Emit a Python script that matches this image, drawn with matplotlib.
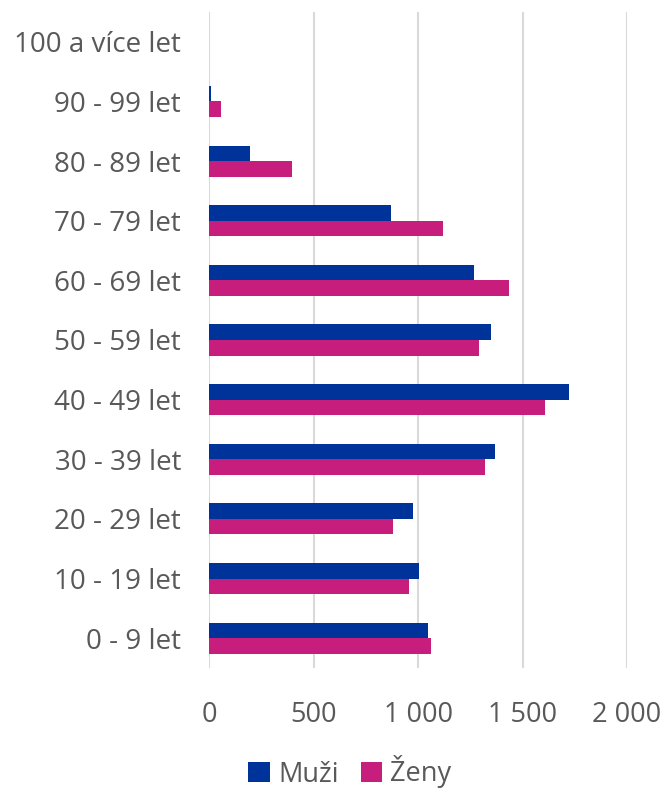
import numpy as np
import matplotlib.pyplot as plt

plt.rcParams['font.family'] = ['Open Sans', 'DejaVu Sans']

categories = ['0 - 9 let', '10 - 19 let', '20 - 29 let', '30 - 39 let', '40 - 49 let',
              '50 - 59 let', '60 - 69 let', '70 - 79 let', '80 - 89 let', '90 - 99 let',
              '100 a více let']
muzi = [1050, 1007, 978, 1370, 1722, 1347, 1268, 873, 195, 10, 0]
zeny = [1063, 959, 881, 1319, 1606, 1292, 1434, 1122, 395, 59, 0]
xticks = [0, 500, 1000, 1500, 2000]
xticklabels = ['0', '500', '1 000', '1 500', '2 000']

blue = '#00339A'
pink = '#C71E7D'
grey = '#595959'

fig = plt.figure(figsize=(6.7, 7.89), dpi=100)
ax = fig.add_axes([209 / 670, 1 - 668 / 789, (627 - 209) / 670, (668 - 12) / 789])

y = np.arange(len(categories))
h = 0.26
ax.barh(y + h / 2, muzi, height=h, color=blue, label='Muži', zorder=3)
ax.barh(y - h / 2, zeny, height=h, color=pink, label='Ženy', zorder=3)

ax.set_xlim(0, 2000)
ax.set_ylim(-0.5, len(categories) - 0.5)
ax.set_xticks(xticks)
ax.set_xticklabels(xticklabels)
ax.set_yticks(y)
ax.set_yticklabels(categories)
ax.tick_params(axis='x', length=0, pad=24, labelsize=19.5, labelcolor=grey)
ax.tick_params(axis='y', length=0, pad=20, labelsize=20, labelcolor=grey)
ax.grid(axis='x', color='#D9D9D9', linewidth=1.5, zorder=0)
for s in ax.spines.values():
    s.set_visible(False)

fig.legend(loc='center', bbox_to_anchor=(350 / 670, 1 - 772 / 789), ncol=2, frameon=False,
           fontsize=19.5, labelcolor=grey, handlelength=0.8, handleheight=0.8,
           handletextpad=0.3, columnspacing=0.8)

fig.savefig('out.png', dpi=100)
